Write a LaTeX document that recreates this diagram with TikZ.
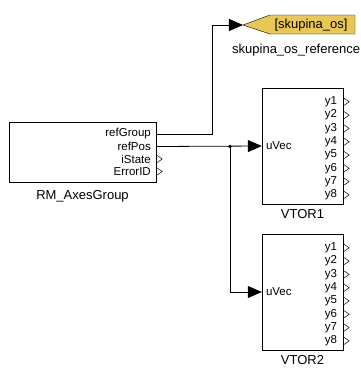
\documentclass[tikz,border=0pt]{standalone}
\usepackage{fontspec}
\setmainfont{Liberation Sans}
\usetikzlibrary{arrows.meta,positioning}

\definecolor{gotoyellow}{RGB}{232,200,82}

\begin{document}
\begin{tikzpicture}[
    x=1pt, y=-1pt,
    font=\fontsize{13}{15}\selectfont,
    block/.style={
        rectangle,
        draw=black,
        fill=white,
        inner sep=0pt
    },
    portlbl/.style={
        anchor=east,
        inner sep=0pt,
        font=\fontsize{11.5}{13}\selectfont
    },
    inlbl/.style={
        anchor=west,
        inner sep=0pt,
        font=\fontsize{11.5}{13}\selectfont
    },
    blkname/.style={
        inner sep=0pt
    },
    outport/.style={draw=black, line width=0.5pt},
    flow/.style={-{Triangle[length=14pt,width=12pt]}, line width=0.8pt}
]
\useasboundingbox (0,0) rectangle (361,368);

% blocks
\node[block, minimum width=147pt, minimum height=60pt] (axes) at (82.5,152) {};
\node[block, minimum width=81pt, minimum height=116pt] (vtorA) at (302.5,146) {};
\node[block, minimum width=81pt, minimum height=116pt] (vtorB) at (302.5,292) {};

\node[blkname, below=8pt of axes] (axesname) {RM\_AxesGroup};
\node[blkname, below=5pt of vtorA] (vtorAname) {VTOR1};
\node[blkname, below=5pt of vtorB] (vtorBname) {VTOR2};

% goto tag
\coordinate (gototip) at (243,25);
\draw[fill=gotoyellow] (gototip) -- (270,15) -- (355,15) -- (355,34) -- (270,34) -- cycle;
\node[inner sep=0pt] (gotolbl) at (311,25) {[skupina\_os]};
\node[inner sep=0pt, anchor=west] (gotoname) at (232,50) {skupina\_os\_reference};

% ports of RM_AxesGroup
\node[portlbl] (pRefGroup) at (151,134) {refGroup};
\node[portlbl] (pRefPos) at (151,146.5) {refPos};
\node[portlbl] (pIState) at (151,159) {iState};
\node[portlbl] (pErrorID) at (151,171.5) {ErrorID};
\coordinate (oRefGroup) at (pRefGroup.east -| axes.east);
\coordinate (oRefPos) at (pRefPos.east -| axes.east);
\foreach \p in {pIState,pErrorID}
    \draw[outport] ([xshift=1pt,yshift=3.5pt]\p.east -| axes.east) -- ++(5,3.5) -- ++(-5,3.5);

% ports of the VTOR blocks
\foreach \b in {vtorA,vtorB} {
    \node[inlbl] (\b in) at ([xshift=4pt]\b.west) {uVec};
    \foreach \i in {1,...,8} {
        \node[portlbl] (\b y\i) at ([xshift=-6pt,yshift={-14pt-13.3pt*(\i-1)}]\b.north east) {y\i};
        \draw[outport] ([xshift=1pt,yshift=3.5pt]\b y\i.east -| \b.east) -- ++(5,3.5) -- ++(-5,3.5);
    }
}

% signals
\coordinate (bend) at (212,0 |- oRefGroup);
\draw[flow] (oRefGroup) -- (bend) |- (gototip);
\coordinate (split) at (230,0 |- oRefPos);
\draw[flow] (oRefPos) -- (vtorA.west);
\draw[flow] (split) |- (vtorB.west);
\fill (split) circle (1.8pt);

\end{tikzpicture}
\end{document}
